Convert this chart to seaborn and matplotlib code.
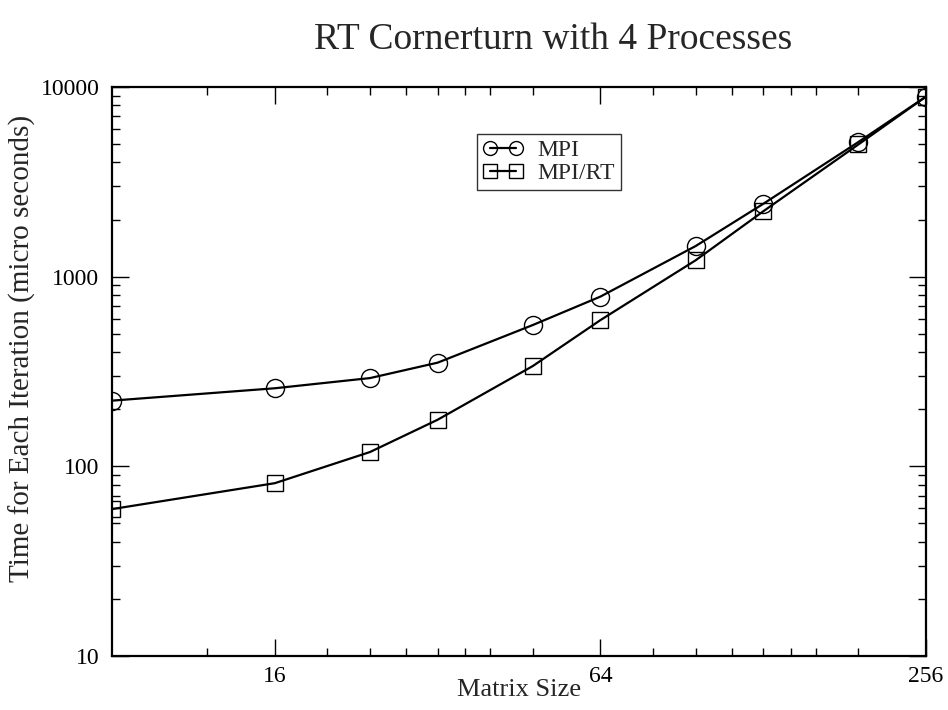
import matplotlib
matplotlib.use("Agg")
import matplotlib.pyplot as plt
import seaborn as sns
import pandas as pd
from matplotlib.ticker import FixedLocator, FixedFormatter, NullFormatter

sizes = [8, 16, 24, 32, 48, 64, 96, 128, 192, 256]
mpi = [222, 258, 292, 352, 556, 785, 1450, 2420, 5130, 8900]
mpi_rt = [59.5, 81.5, 119, 176, 338, 590, 1220, 2210, 4980, 8900]

x_major = [16, 64, 256]
x_major_labels = ["16", "64", "256"]
x_minor = [12, 20, 24, 28, 32, 36, 40, 48, 80, 96, 112, 128, 144, 160, 192]
y_major = [10, 100, 1000, 10000]
y_major_labels = ["10", "100", "1000", "10000"]

title = "RT Cornerturn with 4 Processes"
xlabel = "Matrix Size"
ylabel = "Time for Each Iteration (micro seconds)"

df = pd.DataFrame({
    "size": sizes * 2,
    "time": mpi + mpi_rt,
    "series": ["MPI"] * len(sizes) + ["MPI/RT"] * len(sizes),
})

sns.set_style("ticks")
plt.rcParams["font.family"] = ["Liberation Serif", "DejaVu Serif"]

fig = plt.figure(figsize=(9.48, 7.10), dpi=100)
ax = fig.add_axes([112 / 948, 1 - 656 / 710, (926 - 112) / 948, (656 - 87) / 710])

for name, mk, ms in [("MPI", "o", 13), ("MPI/RT", "s", 11)]:
    sub = df[df["series"] == name]
    sns.lineplot(data=sub, x="size", y="time", ax=ax, color="black",
                 marker=mk, markersize=ms, markerfacecolor="none",
                 markeredgecolor="black", markeredgewidth=1.0,
                 linewidth=1.6, label=name)

ax.set_xscale("log", base=2)
ax.set_yscale("log")
ax.set_xlim(8, 256)
ax.set_ylim(10, 10000)

ax.xaxis.set_major_locator(FixedLocator(x_major))
ax.xaxis.set_major_formatter(FixedFormatter(x_major_labels))
ax.xaxis.set_minor_locator(FixedLocator(x_minor))
ax.xaxis.set_minor_formatter(NullFormatter())
ax.yaxis.set_major_locator(FixedLocator(y_major))
ax.yaxis.set_major_formatter(FixedFormatter(y_major_labels))

ax.tick_params(which="both", direction="in", top=True, right=True, width=1.0, colors="black")
ax.tick_params(which="major", length=12, labelsize=17, pad=7)
ax.tick_params(axis="y", which="major", pad=9)
ax.tick_params(which="minor", length=6)
for s in ax.spines.values():
    s.set_linewidth(1.6)
    s.set_color("black")

ax.set_xlabel(xlabel, fontsize=19)
ax.set_ylabel(ylabel, fontsize=21)
ax.xaxis.set_label_coords(0.5, (656 - 690) / 569)
ax.yaxis.set_label_coords((22 - 112) / 814, (656 - 348) / 569)
for lab in (ax.xaxis.label, ax.yaxis.label):
    lab.set_verticalalignment("center")
fig.text(553 / 948, 1 - 40 / 710, title, ha="center", va="center", fontsize=27)

leg = ax.legend(loc="upper left", bbox_to_anchor=((477 - 112) / 814, (656 - 134) / 569),
                numpoints=2, handlelength=1.7, fontsize=17, frameon=True, fancybox=False,
                borderpad=0.25, labelspacing=0.05, handletextpad=0.6, borderaxespad=0)
leg.get_frame().set_edgecolor("black")
leg.get_frame().set_linewidth(1.0)
for h in leg.legend_handles:
    h.set_markersize(10)

fig.savefig("out.png", dpi=100)
